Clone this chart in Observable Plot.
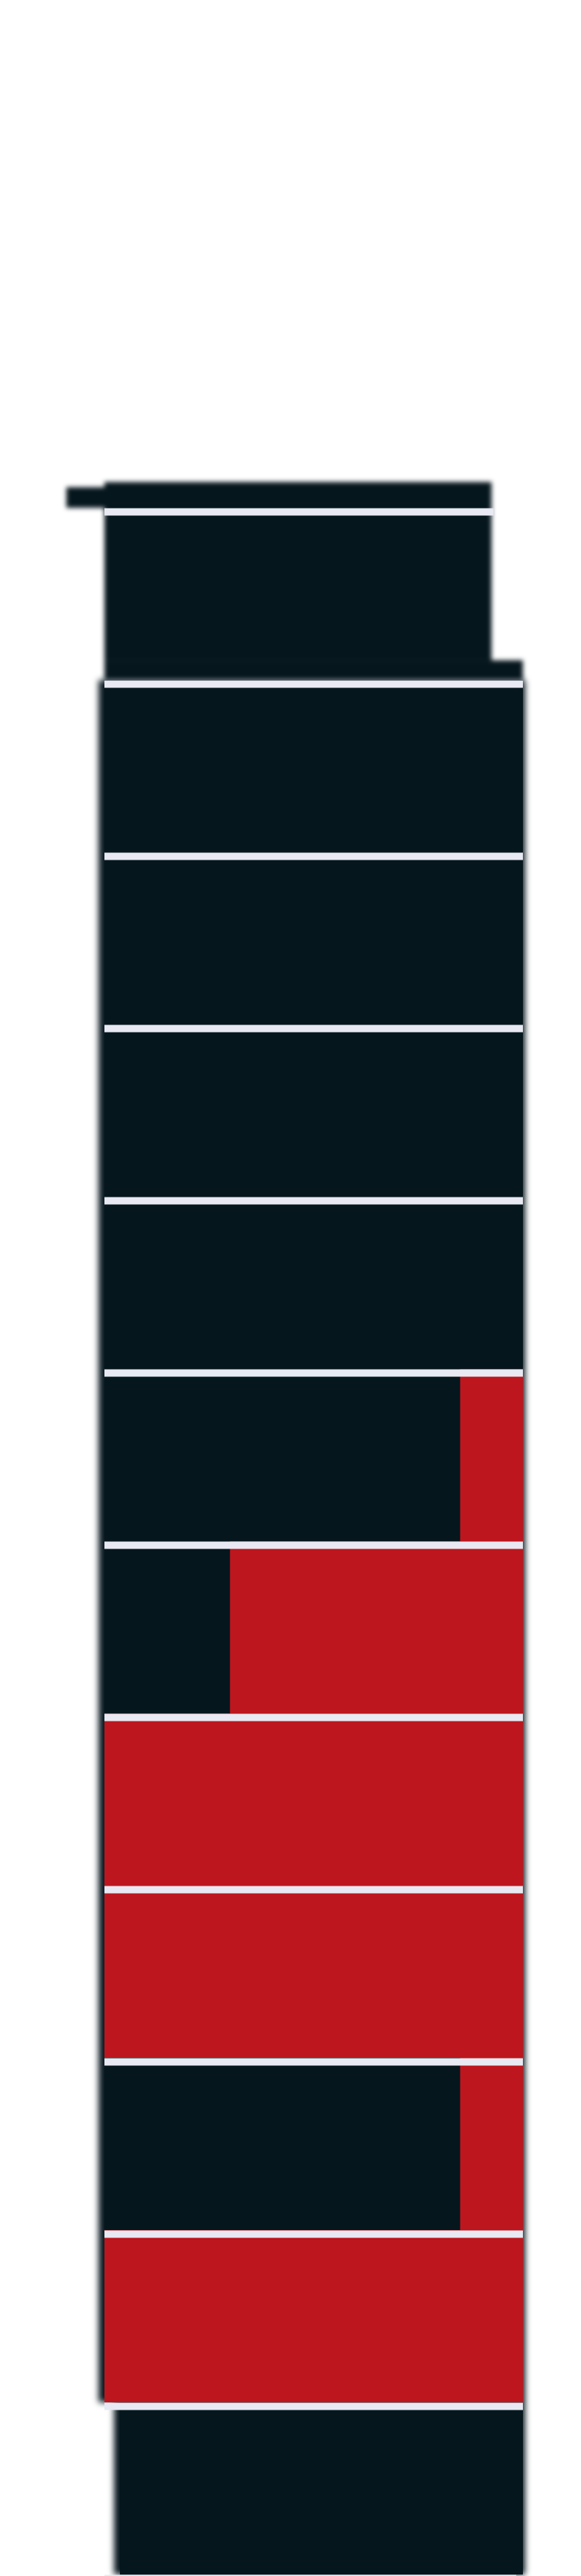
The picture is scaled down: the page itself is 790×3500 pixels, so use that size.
<!DOCTYPE html>
<html>
<head>
<meta charset="utf-8">
<script src="https://cdn.jsdelivr.net/npm/d3@7"></script>
<script src="https://cdn.jsdelivr.net/npm/@observablehq/plot@0.6"></script>
<style>
  html, body { margin: 0; padding: 0; background: #ffffff; }
  #chart svg { display: block; }
</style>
</head>
<body>
<div id="chart"></div>
<script>
// ---- data (shares in %, rows stacked top to bottom) ----
const rowIndex  = [1, 2, 3, 4, 5, 6, 7, 8, 9, 10, 11];
const darkStart = [0, 0, 0, 0, 0, 0, 0, 0, 0, 0, 3.7];
const darkEnd   = [100, 100, 100, 100, 85, 30, 0, 0, 85, 0, 100];

// torn top fragment (row 0 and the strip above it)
const fragX1 = [-9.1, 0, 0, 0];
const fragX2 = [0, 92.5, 92.5, 100];
const fragY1 = [-0.12, -0.15, 0, 0.885];
const fragY2 = [0, 0, 0.885, 1];

// separators between rows
const sepAt = [0, 1, 2, 3, 4, 5, 6, 7, 8, 9, 10, 11, 12];
const sepTo = [93, 100, 100, 100, 100, 100, 100, 100, 100, 100, 100, 100, 98.4];

const DARK = "#06161d";
const RED = "#bd161e";
const SEP = "#e8e9f2";

const rows = rowIndex.map((r, i) => ({row: r, end: r + 1, d0: darkStart[i], d1: darkEnd[i]}));
const reds = rows.filter(d => d.d1 < 100);
const frags = fragX1.map((x, i) => ({x1: x, x2: fragX2[i], y1: fragY1[i], y2: fragY2[i]}));
const seps = sepAt.map((a, i) => ({at: a, to: sepTo[i]}));

const chart = Plot.plot({
  width: 790,
  height: 3500,
  marginLeft: 142,
  marginRight: 79,
  marginTop: 0,
  marginBottom: 0,
  style: {background: "#ffffff", overflow: "visible"},
  x: {domain: [0, 100], axis: null},
  y: {domain: [-690 / 234, 2810 / 234], reverse: true, axis: null},
  marks: [
    // soft shadow under rows
    Plot.rect(rows, {x1: "d0", x2: 100, y1: "row", y2: "end", fill: DARK, insetLeft: -8, insetRight: -3}),
    // blurred torn fragment at top
    Plot.rect(frags, {x1: "x1", x2: "x2", y1: "y1", y2: "y2", fill: DARK}),
    // dark share
    Plot.rect(rows, {x1: "d0", x2: "d1", y1: "row", y2: "end", fill: DARK}),
    // red share
    Plot.rect(reds, {x1: "d1", x2: 100, y1: "row", y2: "end", fill: RED}),
    // separators
    Plot.ruleY(seps, {y: "at", x1: 0, x2: "to", stroke: SEP, strokeWidth: 10, dy: 5})
  ]
});

const groups = chart.querySelectorAll(":scope > g");
if (groups[0]) groups[0].style.filter = "blur(4px)";
if (groups[1]) groups[1].style.filter = "blur(3px)";

document.getElementById("chart").appendChild(chart);
</script>
</body>
</html>
